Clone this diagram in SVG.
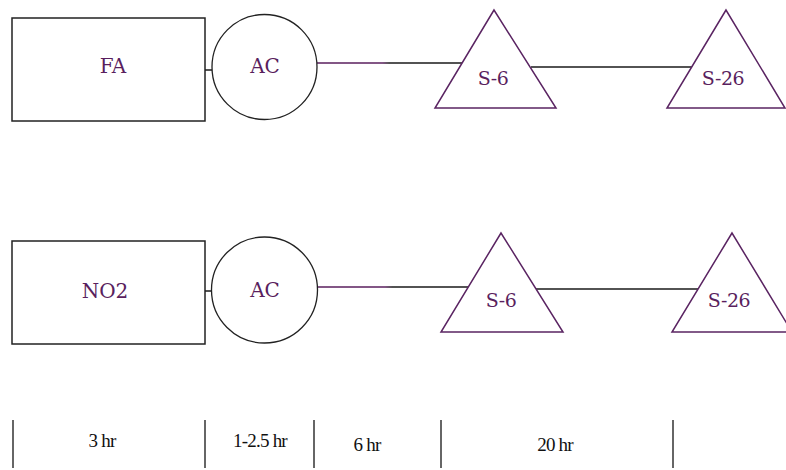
<svg xmlns="http://www.w3.org/2000/svg" width="786" height="470" viewBox="0 0 786 470">
<defs>
<style>
.box{fill:#fff;stroke:#222;stroke-width:1.5}
.circ{fill:#fff;stroke:#222;stroke-width:1.3}
.tri{fill:#fff;stroke:#5a2462;stroke-width:1.5;stroke-linejoin:miter}
.lbl{font-family:"DejaVu Serif","Liberation Serif",serif;font-size:20px;fill:#5a1f5e;text-anchor:middle}
.slbl{font-family:"DejaVu Serif","Liberation Serif",serif;font-size:19px;fill:#5a1f5e;text-anchor:middle;letter-spacing:-0.5px}
.tick{stroke:#333;stroke-width:1.5}
.tl{font-family:"Liberation Serif","Times New Roman",serif;font-size:19px;fill:#111;text-anchor:middle;letter-spacing:-0.8px}
.ln{stroke:#1a1a1a;stroke-width:1.5;fill:none}
</style>
<linearGradient id="g1" x1="0" y1="0" x2="1" y2="0">
<stop offset="0" stop-color="#5a1f5e"/><stop offset="0.45" stop-color="#5a1f5e"/><stop offset="0.5" stop-color="#1a1a1a"/><stop offset="1" stop-color="#1a1a1a"/>
</linearGradient>
</defs>
<rect width="786" height="470" fill="#fff"/>
<g id="connectors">
<line class="ln" x1="205" y1="70" x2="212" y2="70"/>
<rect x="317" y="62.25" width="145" height="1.5" fill="url(#g1)"/>
<line class="ln" x1="531" y1="67" x2="692" y2="67"/>
<line class="ln" x1="205" y1="291" x2="212" y2="291"/>
<rect x="317" y="286.25" width="151" height="1.5" fill="url(#g1)"/>
<line class="ln" x1="536" y1="289" x2="698" y2="289"/>
</g>
<g id="fa">
<rect class="box" x="12" y="18" width="193" height="103"/>
<text class="lbl" x="113" y="73">FA</text>
</g>
<g id="ac1">
<circle class="circ" cx="264.5" cy="67" r="52.5"/>
<text class="lbl" x="265" y="73">AC</text>
</g>
<g id="s6a">
<polygon class="tri" points="494,10 435,108 556,108"/>
<text class="slbl" x="493" y="85">S-6</text>
</g>
<g id="s26a">
<polygon class="tri" points="726,10 667,108 785,108"/>
<text class="slbl" x="723" y="85">S-26</text>
</g>
<g id="no2">
<rect class="box" x="12" y="241" width="193" height="103"/>
<text class="lbl" x="105" y="298">NO2</text>
</g>
<g id="ac2">
<circle class="circ" cx="264.5" cy="290" r="53"/>
<text class="lbl" x="265" y="297">AC</text>
</g>
<g id="s6b">
<polygon class="tri" points="501,233 441,332 563,332"/>
<text class="slbl" x="501" y="307">S-6</text>
</g>
<g id="s26b">
<polygon class="tri" points="732,233 672,332 792,332"/>
<text class="slbl" x="729" y="307">S-26</text>
</g>
<g id="timeline">
<line class="tick" x1="13" y1="420" x2="13" y2="468"/>
<line class="tick" x1="205" y1="420" x2="205" y2="468"/>
<line class="tick" x1="314" y1="420" x2="314" y2="468"/>
<line class="tick" x1="441" y1="420" x2="441" y2="468"/>
<line class="tick" x1="673" y1="420" x2="673" y2="468"/>
<text class="tl" x="102" y="447">3 hr</text>
<text class="tl" x="260" y="447">1-2.5 hr</text>
<text class="tl" x="367" y="451">6 hr</text>
<text class="tl" x="555" y="451">20 hr</text>
</g>
</svg>
